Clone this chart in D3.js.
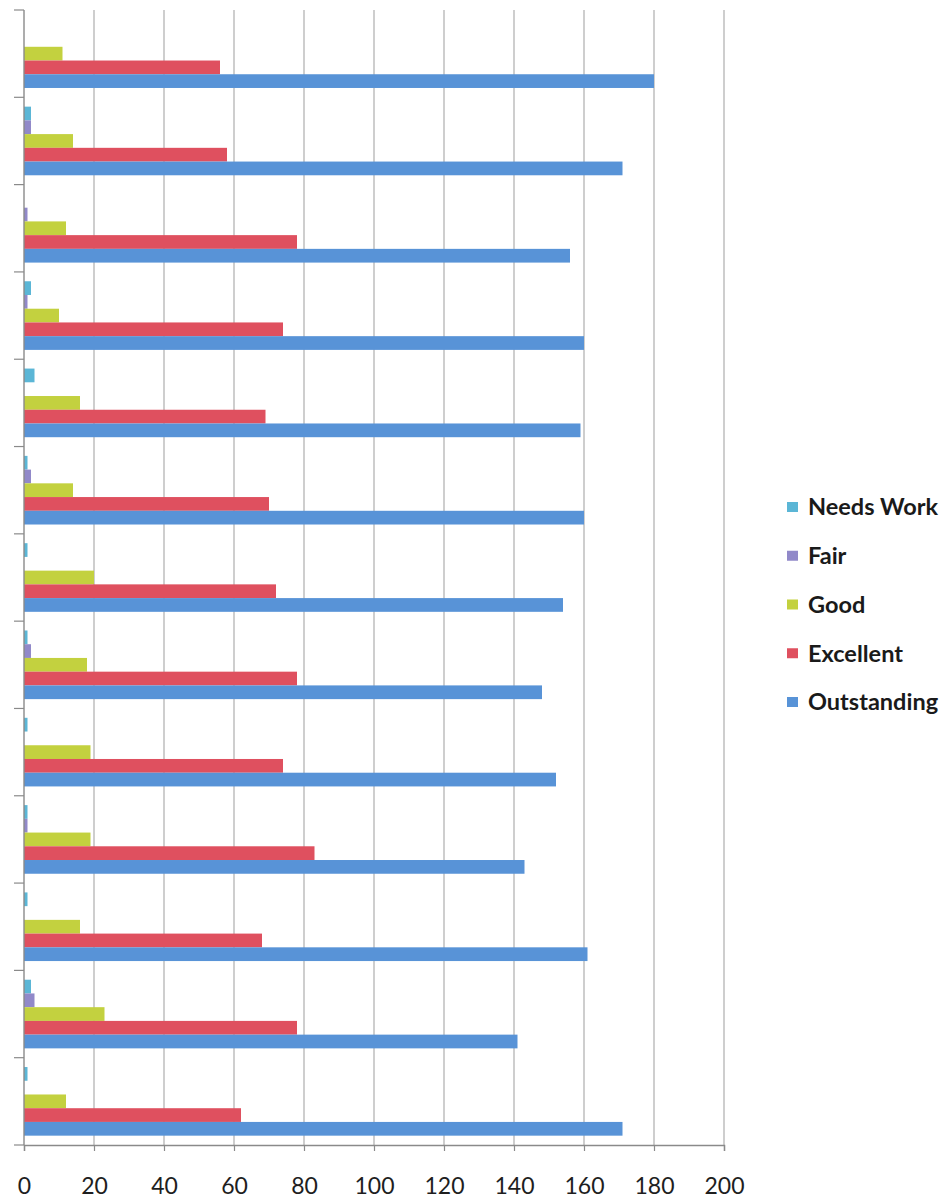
<!DOCTYPE html>
<html>
<head>
<meta charset="utf-8">
<script src="https://cdn.jsdelivr.net/npm/d3@7"></script>
<style>
  html, body { margin: 0; padding: 0; background: #ffffff; }
  svg { display: block; }
</style>
</head>
<body>
<div id="chart"></div>
<script>
// Categories (top to bottom as drawn; their labels are cropped off in the original)
const categories = ["1","2","3","4","5","6","7","8","9","10","11","12","13"];
const seriesNames = ["Needs Work", "Fair", "Good", "Excellent", "Outstanding"];
const seriesColors = ["#5bb6d6", "#9189c9", "#c3d13f", "#df505f", "#5893d7"];

const needsWork   = [0, 2, 0, 2, 3, 1, 1, 1, 1, 1, 1, 2, 1];
const fair        = [0, 2, 1, 1, 0, 2, 0, 2, 0, 1, 0, 3, 0];
const good        = [11, 14, 12, 10, 16, 14, 20, 18, 19, 19, 16, 23, 12];
const excellent   = [56, 58, 78, 74, 69, 70, 72, 78, 74, 83, 68, 78, 62];
const outstanding = [180, 171, 156, 160, 159, 160, 154, 148, 152, 143, 161, 141, 171];

const xTicks = [0, 20, 40, 60, 80, 100, 120, 140, 160, 180, 200];

const seriesValues = [needsWork, fair, good, excellent, outstanding];

(function () {
const W = 950, H = 1200;
const mLeft = 24, mRight = 724, mTop = 10, mBottom = 1145;

const svg = d3.select("#chart").append("svg")
  .attr("width", W).attr("height", H);

const x = d3.scaleLinear().domain([0, 200]).range([mLeft, mRight]);
const y0 = d3.scaleBand().domain(categories).range([mTop, mBottom]).paddingInner(0).paddingOuter(0);
const y1 = d3.scaleBand().domain(seriesNames).range([0, y0.bandwidth()]).paddingInner(0).paddingOuter(0.68);
const color = d3.scaleOrdinal().domain(seriesNames).range(seriesColors);

// vertical gridlines
svg.append("g").selectAll("line")
  .data(xTicks.filter(d => d > 0))
  .join("line")
  .attr("x1", d => x(d)).attr("x2", d => x(d))
  .attr("y1", mTop).attr("y2", mBottom)
  .attr("stroke", "#b9b9b9").attr("stroke-width", 1.4);

// bars
const rows = categories.map((c, i) => ({ cat: c, vals: seriesNames.map((s, j) => ({ s, v: seriesValues[j][i] })) }));
const groups = svg.append("g").selectAll("g")
  .data(rows).join("g")
  .attr("transform", d => `translate(0,${y0(d.cat)})`);
groups.selectAll("rect")
  .data(d => d.vals).join("rect")
  .attr("x", x(0))
  .attr("y", d => y1(d.s))
  .attr("width", d => x(d.v) - x(0))
  .attr("height", y1.bandwidth())
  .attr("fill", d => color(d.s));

// left axis with category boundary ticks, no labels
const yAxis = svg.append("g").attr("transform", `translate(${mLeft},0)`);
yAxis.append("line").attr("x1", 0).attr("x2", 0).attr("y1", mTop).attr("y2", mBottom)
  .attr("stroke", "#8a8a8a").attr("stroke-width", 1.4);
const boundaries = categories.map(c => y0(c)).concat([mBottom]);
yAxis.selectAll("line.tk").data(boundaries).join("line").attr("class", "tk")
  .attr("x1", -10).attr("x2", 0).attr("y1", d => d).attr("y2", d => d)
  .attr("stroke", "#8a8a8a").attr("stroke-width", 1.2);

// bottom axis
const xAxis = d3.axisBottom(x).tickValues(xTicks).tickSize(6).tickPadding(27);
const gx = svg.append("g").attr("transform", `translate(0,${mBottom})`).call(xAxis);
gx.select(".domain").attr("stroke", "#8a8a8a").attr("stroke-width", 1.4);
gx.selectAll(".tick line").attr("stroke", "#8a8a8a").attr("stroke-width", 1.2);
gx.selectAll(".tick text")
  .attr("fill", "#1e1e1e").attr("font-family", "Lato, 'Open Sans', sans-serif")
  .attr("font-size", 23);

// legend
const legend = svg.append("g");
const legY = d3.scalePoint().domain(seriesNames).range([507, 702]);
const li = legend.selectAll("g").data(seriesNames).join("g")
  .attr("transform", d => `translate(787,${legY(d)})`);
li.append("rect").attr("x", 0).attr("y", -5).attr("width", 11).attr("height", 10)
  .attr("fill", d => color(d));
li.append("text").attr("x", 21).attr("y", 0).attr("dy", "0.36em")
  .attr("font-family", "Lato, 'Open Sans', sans-serif").attr("font-weight", "bold")
  .attr("font-size", 23.5).attr("fill", "#1a1a1a")
  .text(d => d);
})();
</script>
</body>
</html>
